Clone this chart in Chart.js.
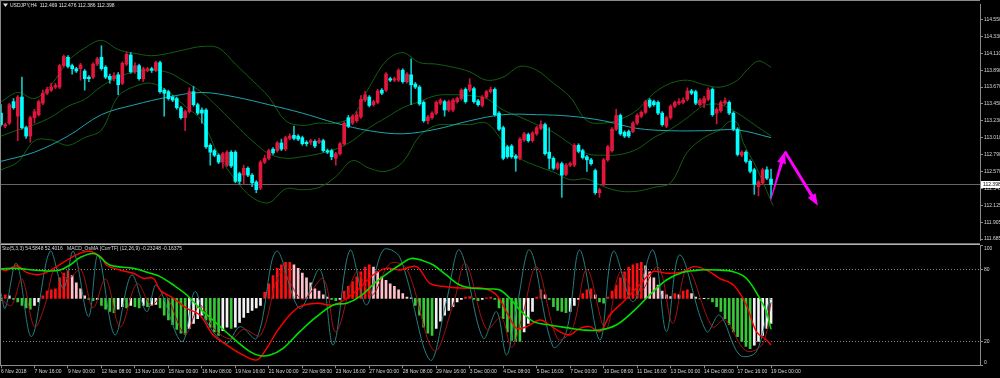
<!DOCTYPE html>
<html>
<head>
<meta charset="utf-8">
<script src="https://cdn.jsdelivr.net/npm/chart.js@4.4.1/dist/chart.umd.min.js"></script>
<style>
  html, body { margin: 0; padding: 0; background: #000; }
  #wrap { position: relative; width: 1000px; height: 378px; background: #000; overflow: hidden; }
  #main { position: absolute; left: 0; top: 0; }
  #osc { position: absolute; left: 0; top: 244px; }
</style>
</head>
<body>
<div id="wrap">
  <canvas id="main" width="1000" height="244"></canvas>
  <canvas id="osc" width="1000" height="134"></canvas>
</div>
<script>
// ---- data (USDJPY H4, one value per bar, bar 0 = 6 Nov 2018) ----
const opens = [113.33,113.16,113.20,113.48,113.29,113.54,113.14,113.03,113.27,113.31,
  113.46,113.59,113.63,113.67,113.67,113.95,114.06,113.95,113.91,113.91,
  113.88,113.80,113.80,113.97,114.06,113.93,113.81,113.78,113.83,113.72,
  113.97,114.09,113.87,113.95,113.78,113.89,113.91,113.89,113.99,113.63,
  113.61,113.54,113.52,113.40,113.27,113.35,113.61,113.44,113.37,113.37,
  112.91,112.84,112.78,112.69,112.65,112.82,112.82,112.54,112.52,112.61,
  112.52,112.43,112.35,112.69,112.74,112.86,112.84,112.94,112.86,113.00,
  113.04,113.03,113.01,112.95,112.95,112.96,112.95,112.97,112.84,112.84,
  112.74,112.80,112.93,113.27,113.20,113.23,113.28,113.50,113.54,113.44,
  113.47,113.63,113.63,113.78,113.76,113.76,113.89,113.74,113.83,113.71,
  113.67,113.47,113.23,113.27,113.33,113.46,113.48,113.37,113.37,113.48,
  113.52,113.64,113.63,113.65,113.49,113.43,113.54,113.61,113.64,113.33,
  113.14,112.89,112.90,112.77,112.74,112.98,113.05,112.97,113.06,113.13,
  113.18,112.82,112.74,112.61,112.67,112.53,112.65,112.65,112.91,112.84,
  112.76,112.72,112.58,112.29,112.40,112.72,112.84,113.12,113.30,113.08,
  113.09,113.09,113.20,113.29,113.34,113.50,113.48,113.47,113.33,113.16,
  113.27,113.42,113.46,113.47,113.51,113.62,113.61,113.44,113.46,113.51,
  113.64,113.33,113.36,113.46,113.47,113.33,113.12,112.78,112.82,112.70,
  112.59,112.37,112.42,112.59,112.469];
const highs = [113.44,113.20,113.46,113.52,113.56,113.80,113.16,113.29,113.38,113.50,
  113.63,113.67,113.72,113.72,113.97,114.09,114.08,113.97,113.93,113.98,
  113.90,113.82,113.99,114.06,114.21,113.95,113.84,113.86,113.86,114.00,
  114.13,114.12,113.99,113.97,113.93,113.93,113.93,114.01,114.01,113.65,
  113.63,113.56,113.54,113.42,113.37,113.66,113.68,113.46,113.40,113.39,
  112.93,112.86,112.80,112.82,112.84,112.84,112.84,112.56,112.65,112.63,
  112.54,112.45,112.71,112.78,112.86,112.88,112.96,112.99,113.03,113.06,
  113.16,113.05,113.03,112.97,112.99,112.98,113.00,112.99,112.86,112.86,
  112.82,112.95,113.22,113.30,113.31,113.35,113.56,113.61,113.56,113.50,
  113.64,113.65,113.86,113.80,113.80,113.91,113.91,113.86,114.04,113.73,
  113.69,113.49,113.30,113.35,113.49,113.52,113.50,113.50,113.52,113.54,
  113.65,113.66,113.78,113.67,113.51,113.56,113.63,113.67,113.66,113.35,
  113.16,112.91,112.92,112.79,113.01,113.08,113.07,113.09,113.16,113.23,
  113.20,113.14,112.76,112.69,112.69,112.67,112.69,112.93,112.93,112.86,
  112.78,112.74,112.60,112.35,112.74,112.91,113.14,113.38,113.32,113.10,
  113.11,113.22,113.32,113.36,113.50,113.52,113.50,113.49,113.35,113.29,
  113.44,113.49,113.52,113.53,113.66,113.64,113.63,113.52,113.55,113.66,
  113.66,113.40,113.49,113.53,113.49,113.35,113.14,112.84,112.84,112.72,
  112.61,112.45,112.61,112.63,112.60];
const lows = [113.16,113.14,113.18,113.38,112.97,113.12,113.00,112.95,113.20,113.29,
  113.44,113.57,113.61,113.65,113.65,113.93,113.92,113.84,113.86,113.76,
  113.63,113.74,113.78,113.95,113.89,113.78,113.72,113.75,113.57,113.70,
  113.95,113.85,113.85,113.76,113.74,113.87,113.86,113.87,113.59,113.29,
  113.50,113.48,113.38,113.25,113.10,113.33,113.42,113.31,113.20,112.87,
  112.65,112.76,112.67,112.61,112.63,112.62,112.42,112.40,112.40,112.50,
  112.37,112.29,112.33,112.67,112.72,112.79,112.82,112.84,112.84,112.98,
  112.98,112.97,112.91,112.90,112.92,112.88,112.93,112.82,112.80,112.72,
  112.65,112.78,112.91,113.14,113.18,113.21,113.26,113.48,113.41,113.42,
  113.45,113.57,113.61,113.74,113.74,113.74,113.72,113.72,113.44,113.65,
  113.43,113.21,113.19,113.25,113.31,113.44,113.29,113.35,113.35,113.46,
  113.50,113.46,113.61,113.46,113.42,113.41,113.52,113.59,113.29,113.10,
  112.72,112.74,112.74,112.57,112.72,112.96,112.95,112.95,113.04,113.11,
  112.78,112.60,112.59,112.59,112.23,112.51,112.63,112.63,112.81,112.73,
  112.57,112.65,112.27,112.23,112.38,112.70,112.82,113.10,113.04,113.01,
  113.01,113.07,113.18,113.27,113.32,113.40,113.42,113.31,113.16,113.14,
  113.25,113.40,113.44,113.45,113.49,113.57,113.44,113.42,113.40,113.49,
  113.29,113.19,113.34,113.44,113.31,113.10,112.77,112.76,112.68,112.55,
  112.27,112.25,112.40,112.46,112.22];
const closes = [113.18,113.18,113.44,113.40,113.54,113.14,113.03,113.27,113.35,113.48,
  113.59,113.64,113.67,113.69,113.95,114.07,113.94,113.91,113.88,113.96,
  113.78,113.78,113.97,114.04,113.91,113.80,113.77,113.82,113.70,113.98,
  114.10,113.87,113.95,113.78,113.91,113.91,113.89,113.99,113.61,113.59,
  113.52,113.50,113.40,113.27,113.35,113.61,113.44,113.33,113.33,112.89,
  112.82,112.78,112.69,112.80,112.82,112.64,112.44,112.44,112.61,112.52,
  112.42,112.33,112.69,112.74,112.84,112.81,112.94,112.86,113.01,113.03,
  113.00,112.99,112.93,112.93,112.97,112.90,112.97,112.84,112.82,112.76,
  112.80,112.93,113.20,113.16,113.29,113.31,113.51,113.57,113.43,113.48,
  113.62,113.59,113.84,113.76,113.78,113.89,113.74,113.84,113.70,113.67,
  113.45,113.23,113.28,113.33,113.47,113.50,113.37,113.48,113.50,113.52,
  113.63,113.48,113.70,113.48,113.44,113.54,113.61,113.64,113.31,113.12,
  112.74,112.76,112.76,112.74,112.99,113.06,112.97,113.07,113.14,113.18,
  112.80,112.74,112.61,112.67,112.52,112.65,112.67,112.91,112.83,112.75,
  112.72,112.67,112.29,112.33,112.72,112.89,113.12,113.30,113.06,113.03,
  113.03,113.20,113.30,113.34,113.48,113.42,113.44,113.33,113.18,113.27,
  113.42,113.47,113.48,113.50,113.62,113.59,113.46,113.50,113.52,113.63,
  113.31,113.38,113.47,113.49,113.33,113.12,112.79,112.82,112.70,112.57,
  112.40,112.43,112.59,112.48,112.398];

// Bollinger bands and moving average: [bar, price]
const bbUpper = [[0,113.48],[4,113.60],[8,113.52],[12,113.70],[16,114.01],[20,114.18],[24,114.28],
  [28,114.16],[32,114.11],[36,114.08],[40,114.11],[44,114.16],[48,114.20],[52,114.18],[56,113.97],
  [60,113.76],[64,113.54],[68,113.23],[72,113.17],[76,113.20],[80,113.20],[84,113.29],[88,113.67],
  [92,114.01],[96,114.12],[100,113.99],[104,113.97],[108,113.93],[112,113.87],[116,113.76],[120,113.80],
  [124,113.94],[128,113.89],[132,113.72],[136,113.54],[140,113.23],[144,113.20],[148,113.25],[152,113.37],
  [156,113.59],[160,113.72],[164,113.76],[168,113.70],[172,113.67],[176,113.76],[178,113.88],[181,114.01],[184,113.93]];
const bbMiddle = [[0,113.03],[4,113.11],[8,113.18],[12,113.28],[16,113.42],[20,113.51],[24,113.68],
  [28,113.80],[32,113.87],[36,113.89],[40,113.86],[44,113.74],[48,113.60],[52,113.40],[56,113.18],
  [60,112.97],[64,112.80],[68,112.74],[72,112.76],[76,112.80],[80,112.86],[84,112.97],[88,113.14],
  [92,113.27],[96,113.40],[100,113.48],[104,113.56],[108,113.57],[112,113.56],[116,113.52],[120,113.37],
  [124,113.28],[128,113.18],[132,113.08],[136,112.93],[140,112.80],[144,112.78],[148,112.79],[152,112.86],
  [156,113.01],[160,113.12],[164,113.27],[168,113.43],[172,113.44],[176,113.33],[180,113.18],[184,113.03]];
const bbLower = [[0,112.59],[4,112.69],[8,112.97],[12,112.98],[16,112.91],[20,113.01],[24,113.11],
  [28,113.55],[32,113.68],[36,113.72],[40,113.61],[44,113.42],[48,113.23],[52,112.78],[56,112.46],
  [60,112.23],[64,112.16],[68,112.34],[72,112.33],[76,112.36],[80,112.50],[84,112.71],[88,112.61],
  [92,112.57],[96,112.69],[100,113.03],[104,113.17],[108,113.18],[112,113.18],[116,113.20],[120,112.96],
  [124,112.74],[128,112.64],[132,112.56],[136,112.46],[140,112.47],[144,112.37],[148,112.31],[152,112.31],
  [156,112.36],[160,112.42],[164,112.82],[168,113.01],[172,113.12],[174,113.22],[176,113.20],[177.3,112.95],
  [180.6,112.61],[183,112.31],[184.5,112.12]];
const maLine = [[0,112.70],[8,112.82],[16,113.03],[24,113.31],[32,113.44],[40,113.54],[48,113.60],
  [56,113.54],[64,113.44],[72,113.33],[80,113.20],[88,113.10],[96,113.06],[104,113.12],[112,113.23],
  [120,113.31],[128,113.31],[136,113.29],[144,113.23],[152,113.13],[160,113.10],[168,113.10],[176,113.11],[184,113.01]];

// lower window: OsMA histogram (one per bar) and oscillator lines [bar, value 0-100]
const osma = [-0.02,0.03,0.02,-0.01,-0.03,-0.06,-0.08,-0.09,-0.06,-0.03,
  0.02,0.06,0.07,0.08,0.17,0.21,0.23,0.19,0.13,0.08,
  0.02,-0.01,-0.02,-0.01,-0.06,-0.09,-0.11,-0.12,-0.09,-0.07,
  -0.08,-0.06,-0.07,-0.08,-0.06,-0.07,-0.06,-0.05,-0.08,-0.14,
  -0.18,-0.22,-0.26,-0.29,-0.30,-0.25,-0.21,-0.17,-0.14,-0.18,
  -0.24,-0.28,-0.31,-0.27,-0.24,-0.25,-0.24,-0.20,-0.16,-0.12,
  -0.10,-0.08,-0.06,0.05,0.12,0.19,0.25,0.28,0.30,0.30,
  0.28,0.25,0.21,0.17,0.13,0.08,0.06,0.03,0.01,-0.01,
  -0.02,-0.01,0.06,0.10,0.14,0.18,0.22,0.26,0.28,0.26,
  0.22,0.18,0.15,0.12,0.10,0.07,0.04,0.01,0.005,-0.06,
  -0.14,-0.24,-0.29,-0.31,-0.25,-0.19,-0.14,-0.10,-0.07,-0.03,
  -0.01,0.01,0.015,-0.01,-0.02,-0.01,0.005,0.01,-0.01,-0.08,
  -0.17,-0.28,-0.35,-0.36,-0.36,-0.28,-0.21,-0.11,0.01,0.07,
  0.03,-0.01,-0.07,-0.10,-0.11,-0.12,-0.11,-0.06,-0.01,0.04,
  0.07,0.08,0.03,-0.03,-0.04,0.01,0.06,0.11,0.17,0.22,
  0.26,0.28,0.29,0.30,0.27,0.22,0.17,0.11,0.06,0.03,
  0.015,0.04,0.03,0.06,0.07,0.04,0.01,-0.005,-0.003,-0.004,
  -0.03,-0.07,-0.11,-0.17,-0.22,-0.28,-0.32,-0.36,-0.40,-0.42,
  -0.39,-0.36,-0.31,-0.25,-0.21];
const stoMain = [[0,60],[1,47.5],[3.7,85],[7.3,23.9],[11.7,95],[14.9,64],[17.3,95],[20.9,40.5],
  [23.2,92],[27.2,25.3],[31.2,75.3],[34.8,44.7],[37.2,66.9],[43.2,19.7],[46.3,61.4],[49.1,36.4],
  [53.9,18.3],[57.1,32.2],[61.1,22.5],[65.8,95],[71.4,47.5],[76.2,80],[79.4,17],[83.4,96],
  [87.3,50.3],[91.3,96],[95.3,90],[102.5,4.4],[106.4,53],[109.6,96],[115.2,22.5],[118.4,44.7],
  [120.8,8.6],[123.2,47.5],[126.4,96],[131.9,15.5],[135.1,28],[138.3,96],[143.1,21.1],[146.3,95],
  [151,53],[155.8,96],[159,28],[162.2,92],[168.6,28],[171.7,41.9],[176.5,8.6],[180.5,11.4],
  [183.7,55.8],[184,54.6]];
const stoSignal = [[0,55],[2.5,50],[5,72],[8,32],[10.5,50],[13,82],[16,72],[19,80],[22,48],[25,72],
  [28.5,32],[32.5,68],[36,50],[39,60],[44,26],[47.5,50],[51,30],[55,22],[58,30],[62,25],[67,78],
  [72,55],[77,72],[80,28],[85,78],[88.5,58],[93,85],[97,80],[103.5,12],[108,50],[111,85],[116,30],
  [119.5,40],[122,15],[124.5,40],[128,82],[133,22],[136.5,30],[140,80],[144.5,30],[148,78],[152,58],
  [157,82],[160.5,35],[164,80],[170,32],[173,38],[178,12],[182,18],[184,52.4]];
const macdRed = [[0,80],[1.2,79],[3.7,83],[6.1,77.5],[8.5,75.5],[10.1,76.4],[12.5,80.5],[15,86],
  [18,92],[21,95],[24,90],[25.2,83.6],[28.4,79.4],[31.6,76.7],[34,72.5],[36.4,72.5],[38,62.8],
  [41.2,55.8],[44.4,47.5],[47.5,41.9],[50.7,25.3],[53.9,17],[57.1,10],[61.1,4.4],[63.5,14.2],
  [65.9,28],[69,41.9],[71.4,48.9],[75.4,51.7],[79.4,50.3],[82.6,55.8],[85.7,64.2],[88.9,75.3],
  [92.1,80.8],[95.3,79.4],[99.3,82.2],[102.5,68.3],[106.4,65.5],[111.2,64.2],[115.2,64.2],[118.4,58.6],
  [121.2,41.9],[123.2,30.8],[125.6,32.2],[128.8,37.8],[131.1,33.6],[133.5,28],[135.9,25.3],[138.3,30.8],
  [140.7,32.2],[143.1,28],[145.5,41.9],[148.7,53],[152.6,66.9],[155.8,78],[159,76.7],[163,78],
  [165.4,82.2],[168.6,79.4],[171.7,72.5],[175,66.9],[178.1,50.3],[180.5,28],[182.9,21.1],[184,17]];
const macdGreen = [[0,80.3],[3.7,80.8],[7.7,79.4],[11.7,78.6],[14.1,79.4],[16.5,83.6],[19,90],
  [22.4,93],[26,83.6],[31.6,80.8],[35.6,76.7],[38,73.9],[41.2,66.9],[44.4,58.6],[47.5,47.5],
  [51.5,35],[55.5,22.5],[59.5,11.4],[61.9,8],[64.3,8.6],[67.4,14.2],[71.4,28],[75.4,40.5],
  [79.4,50.3],[82.6,51.7],[85.7,57.2],[89.7,69.7],[92.9,78],[95.3,83.6],[98,89],[101,87],
  [103.3,83.6],[106.4,75.3],[109.6,66.9],[112.8,64.2],[116.8,63.6],[119.2,62.8],[121.6,55.8],
  [124,46.1],[127.2,36.4],[131.1,33.6],[135.1,31.4],[139.1,29.4],[143.1,29.4],[147,33.6],[151,44.7],
  [155,58.6],[159,71.1],[163,77.5],[167,79.4],[171,79.4],[175,78],[178.1,72.5],[181.3,55.8],
  [182.9,44.7],[184,30]];

// axes
const xLabels = ['6 Nov 2018','7 Nov 16:00','9 Nov 00:00','12 Nov 08:00','13 Nov 16:00','15 Nov 00:00',
  '16 Nov 08:00','19 Nov 16:00','21 Nov 00:00','22 Nov 08:00','23 Nov 16:00','27 Nov 00:00',
  '28 Nov 08:00','29 Nov 16:00','3 Dec 00:00','4 Dec 08:00','5 Dec 16:00','7 Dec 00:00',
  '10 Dec 08:00','11 Dec 16:00','13 Dec 00:00','14 Dec 08:00','17 Dec 16:00','19 Dec 00:00'];
const yTickVals = [111.685,111.905,112.125,112.345,112.570,112.790,113.010,113.230,113.450,113.670,113.890,114.110,114.330,114.550];
const yTickLabels = ['111.685','111.905','112.125','112.345','112.570','112.790','113.010','113.230','113.450','113.670','113.890','114.110','114.330','114.550'];
const oscLevels = [0, 20, 80, 100];
const oscLabels = ['0', '20', '80', '100'];

// hand-drawn arrows on the chart: [bar, price]
const arrowPts = [[183.9,112.19],[187.3,112.83],[195.2,112.12]];

const header = 'USDJPY,H4  112.469 112.476 112.386 112.398';
const oscTitle = 'Sto(5,3,3) 54.5848 52.4016   MACD_OsMA [CurrTF] (12,26,9) -0.23248 -0.16375';

// ---- chart ----
const xMin = -0.24, xMax = 233.93;
const FONT = 'Liberation Sans';
const txt = '#d8d8d8', axisCol = '#8a8a8a';
const upCol = '#e0163c', dnCol = '#00ffff';
const upWick = '#c8163c', dnWick = '#14c4c4';
const idx = opens.map((_, i) => i);
const bull = idx.map(i => closes[i] >= opens[i]);
const candleCol = idx.map(i => bull[i] ? upCol : dnCol);
const wickCol = idx.map(i => bull[i] ? upWick : dnWick);
const lastClose = closes[closes.length - 1];

const pts = arr => arr.map(p => ({x: p[0], y: p[1]}));
const line = (arr, color, width, axis, order) => ({
  type: 'line', data: pts(arr), borderColor: color, borderWidth: width, pointRadius: 0,
  tension: 0.35, yAxisID: axis, order: order
});
// keep the bar index axis exactly on [xMin, xMax]
const pinX = s => { s.min = xMin; s.max = xMax; };

function drawArrow(ctx, x0, y0, x1, y1, w0, w1) {
  const a = Math.atan2(y1 - y0, x1 - x0);
  const L = 12, W = 4.5;
  const bx = x1 - L * Math.cos(a), by = y1 - L * Math.sin(a);
  const nx = Math.sin(a), ny = -Math.cos(a);
  ctx.beginPath();
  ctx.moveTo(x0 + nx * w0, y0 + ny * w0);
  ctx.lineTo(bx + nx * w1, by + ny * w1);
  ctx.lineTo(bx + nx * W, by + ny * W);
  ctx.lineTo(x1, y1);
  ctx.lineTo(bx - nx * W, by - ny * W);
  ctx.lineTo(bx - nx * w1, by - ny * w1);
  ctx.lineTo(x0 - nx * w0, y0 - ny * w0);
  ctx.closePath();
  ctx.fill();
}

const mainDeco = {
  id: 'mainDeco',
  beforeDatasetsDraw(chart) {
    const {ctx, chartArea: a, scales: {y}} = chart;
    const py = Math.round(y.getPixelForValue(lastClose)) + 0.5;
    ctx.save();
    ctx.strokeStyle = '#646464';
    ctx.lineWidth = 1;
    ctx.beginPath(); ctx.moveTo(a.left, py); ctx.lineTo(a.right, py); ctx.stroke();
    ctx.restore();
  },
  afterDraw(chart) {
    const {ctx, chartArea: a, scales: {x, y}} = chart;
    ctx.save();
    ctx.strokeStyle = axisCol; ctx.lineWidth = 1;
    ctx.beginPath();
    ctx.moveTo(0.5, 0); ctx.lineTo(0.5, 244);
    ctx.moveTo(0, 0.5); ctx.lineTo(a.right, 0.5);
    ctx.stroke();
    ctx.strokeStyle = '#6e6e6e';
    ctx.beginPath(); ctx.moveTo(0, 243.5); ctx.lineTo(a.right, 243.5); ctx.stroke();
    ctx.fillStyle = '#ff00ff';
    const p = arrowPts.map(q => [x.getPixelForValue(q[0]), y.getPixelForValue(q[1])]);
    drawArrow(ctx, p[0][0], p[0][1], p[1][0], p[1][1], 0.4, 1.6);
    drawArrow(ctx, p[1][0], p[1][1], p[2][0], p[2][1], 1.4, 1.6);
    ctx.fillStyle = '#e0e0e0';
    ctx.beginPath(); ctx.moveTo(3, 3.5); ctx.lineTo(8, 3.5); ctx.lineTo(5.5, 7); ctx.closePath(); ctx.fill();
    ctx.font = '5px "' + FONT + '"';
    ctx.textBaseline = 'middle';
    ctx.fillText(header, 10, 5.5);
    const py = y.getPixelForValue(lastClose);
    ctx.fillStyle = '#ffffff';
    ctx.fillRect(a.right + 1, py - 3.5, 20, 7);
    ctx.fillStyle = '#000000';
    ctx.fillText(lastClose.toFixed(3), a.right + 3, py);
    ctx.restore();
  }
};

new Chart(document.getElementById('main'), {
  type: 'bar',
  data: {
    datasets: [
      line(bbUpper, '#125e12', 1, 'y', 5),
      line(bbMiddle, '#125e12', 1, 'y', 5),
      line(bbLower, '#125e12', 1, 'y', 5),
      line(maLine, '#1fa3ab', 1, 'y', 4),
      { type: 'bar', data: idx.map(i => ({x: i, y: [lows[i], highs[i]]})), backgroundColor: wickCol,
        barThickness: 1, grouped: false, order: 3, yAxisID: 'y' },
      { type: 'bar', data: idx.map(i => ({x: i, y: [opens[i], closes[i]]})), backgroundColor: candleCol,
        barThickness: 3, minBarLength: 1, grouped: false, order: 2, yAxisID: 'y' }
    ]
  },
  options: {
    responsive: false, animation: false, events: [],
    layout: { padding: { top: 2, bottom: 1, left: 0, right: 0 }, autoPadding: false },
    plugins: { legend: { display: false }, tooltip: { enabled: false } },
    scales: {
      x: { type: 'linear', min: xMin, max: xMax, offset: false, bounds: 'data', display: false,
           afterDataLimits: pinX, afterBuildTicks: pinX },
      y: {
        position: 'right', min: 111.673, max: 114.755,
        afterBuildTicks: s => { s.ticks = yTickVals.map(v => ({ value: v })); },
        afterFit: s => { s.width = 20; },
        ticks: { callback: (v, i) => yTickLabels[i], color: txt, font: { family: FONT, size: 5 },
                 padding: 1, autoSkip: false, crossAlign: 'near' },
        grid: { drawOnChartArea: false, tickLength: 3, color: axisCol },
        border: { color: axisCol }
      }
    }
  },
  plugins: [mainDeco]
});

const histCol = osma.map((v, i) => {
  const prev = i > 0 ? osma[i - 1] : v;
  if (v >= 0) return v >= prev ? '#ff1010' : '#ffc0cb';
  return v <= prev ? '#38c838' : '#f2f2f2';
});

const oscDeco = {
  id: 'oscDeco',
  beforeDatasetsDraw(chart) {
    const {ctx, chartArea: a, scales: {y}} = chart;
    ctx.save();
    ctx.strokeStyle = '#8a8a8a'; ctx.lineWidth = 1; ctx.setLineDash([1, 2]);
    [20, 80].forEach(v => {
      const py = Math.round(y.getPixelForValue(v)) + 0.5;
      ctx.beginPath(); ctx.moveTo(a.left, py); ctx.lineTo(a.right, py); ctx.stroke();
    });
    ctx.restore();
  },
  afterDraw(chart) {
    const {ctx, chartArea: a, scales: {y}} = chart;
    ctx.save();
    ctx.strokeStyle = '#b4b4b4'; ctx.lineWidth = 1;
    ctx.beginPath(); ctx.moveTo(0, 0.5); ctx.lineTo(a.right, 0.5); ctx.stroke();
    ctx.strokeStyle = axisCol;
    ctx.beginPath(); ctx.moveTo(0.5, 0); ctx.lineTo(0.5, a.bottom); ctx.stroke();
    ctx.font = '5px "' + FONT + '"';
    ctx.fillStyle = txt;
    ctx.textBaseline = 'middle';
    ctx.fillText(oscTitle, 2, 5);
    oscLevels.forEach((v, k) => {
      let py = y.getPixelForValue(v);
      py = Math.min(Math.max(py, a.top + 3), a.bottom - 3);
      ctx.fillText(oscLabels[k], a.right + 4, py);
    });
    ctx.restore();
  }
};

new Chart(document.getElementById('osc'), {
  type: 'bar',
  data: {
    datasets: [
      line(macdGreen, '#00e000', 1.6, 'y', 1),
      line(macdRed, '#ff0000', 1.4, 'y', 2),
      line(stoSignal, '#a31212', 1, 'y', 3),
      line(stoMain, '#267e7e', 1, 'y', 4),
      { type: 'bar', data: idx.map(i => ({x: i, y: osma[i]})), backgroundColor: histCol,
        barThickness: 2, grouped: false, order: 6, yAxisID: 'yh' }
    ]
  },
  options: {
    responsive: false, animation: false, events: [],
    layout: { padding: { top: 1.3, bottom: 0, left: 0, right: 0 }, autoPadding: false },
    plugins: { legend: { display: false }, tooltip: { enabled: false } },
    scales: {
      x: {
        type: 'linear', min: xMin, max: xMax, offset: false, bounds: 'data', position: 'bottom',
        afterDataLimits: pinX,
        afterBuildTicks: s => { pinX(s); s.ticks = xLabels.map((_, k) => ({ value: k * 8 })); },
        afterFit: s => { s.height = 12.7; s.paddingLeft = 0; s.paddingRight = 0; },
        ticks: { callback: (v, i) => xLabels[i], align: 'start', color: txt, font: { family: FONT, size: 5 },
                 padding: 0, autoSkip: false, maxRotation: 0 },
        grid: { drawOnChartArea: false, tickLength: 3, color: axisCol, offset: false },
        border: { color: axisCol }
      },
      y: {
        position: 'right', min: 0, max: 100,
        afterBuildTicks: s => { s.ticks = oscLevels.map(v => ({ value: v })); },
        afterFit: s => { s.width = 20; },
        ticks: { display: false },
        grid: { drawOnChartArea: false, tickLength: 3, color: axisCol },
        border: { color: axisCol }
      },
      yh: { display: false, min: -0.558, max: 0.442 }
    }
  },
  plugins: [oscDeco]
});
</script>
</body>
</html>
